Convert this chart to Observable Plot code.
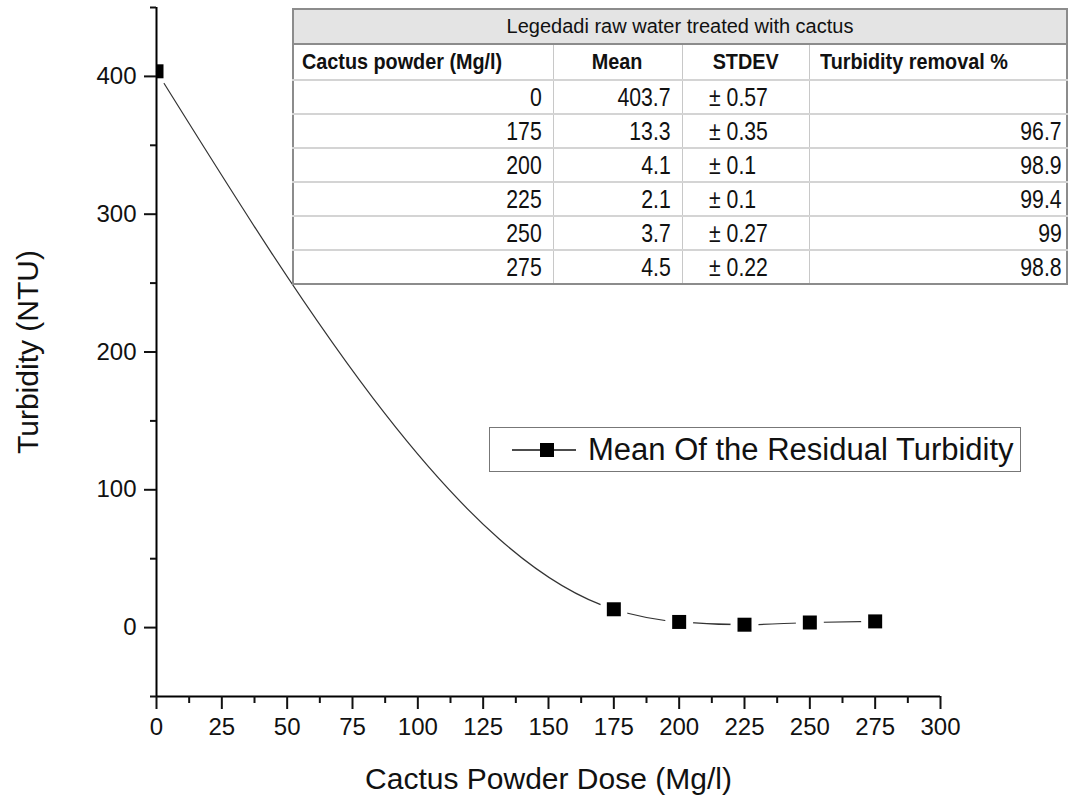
<!DOCTYPE html>
<html>
<head>
<meta charset="utf-8">
<script src="https://cdn.jsdelivr.net/npm/d3@7"></script>
<script src="https://cdn.jsdelivr.net/npm/@observablehq/plot@0.6"></script>
<style>
  html, body { margin: 0; padding: 0; background: #fff; }
  #wrap { position: relative; width: 1069px; height: 803px; overflow: hidden; font-family: "Liberation Sans", Arial, sans-serif; }
  #wrap svg.plot { position: absolute; left: 0; top: 0; }
  table.info { position: absolute; left: 292px; top: 8px; border-collapse: collapse; border: 2px solid #8c8c8c;
    font-family: "Liberation Sans", Arial, sans-serif; color: #111; background: #fff; table-layout: fixed; }
  table.info td, table.info th { border: 1px solid #c8c8c8; padding: 0; white-space: nowrap; overflow: hidden; }
  table.info tr.ttl td { background: #e4e4e4; text-align: center; font-size: 20px; height: 33px; border-bottom: 2px solid #8c8c8c; }
  table.info tr.hdr th { font-size: 22px; font-weight: bold; height: 34px; }
  table.info tr.row td { font-size: 25px; height: 32px; border-top: 2px solid #d4d4d4; }
  .n { display: inline-block; }
  .r { text-align: right; padding-right: 11px !important; }
  .r .n { transform-origin: right center; }
  .l { text-align: left; }
  .l .n { transform-origin: left center; }
  .c { text-align: center; }
  .c .n { transform-origin: center center; }
  #legend { position: absolute; left: 489px; top: 427px; width: 530px; height: 43px; border: 1.5px solid #777; background: #fff;
    display: flex; align-items: center; font-size: 31px; color: #111; }
  #legend svg { margin-left: 22px; margin-right: 12px; }
</style>
</head>
<body>
<div id="wrap"></div>
<script>
// ---- data ----
const doses = [0, 175, 200, 225, 250, 275];
const meanTurbidity = [403.7, 13.3, 4.1, 2.1, 3.7, 4.5];
const stdevText = ["± 0.57", "± 0.35", "± 0.1", "± 0.1", "± 0.27", "± 0.22"];
const removalPct = ["", "96.7", "98.9", "99.4", "99", "98.8"];
const tableTitle = "Legedadi raw water treated with cactus";
const tableHeaders = ["Cactus powder (Mg/l)", "Mean", "STDEV", "Turbidity removal %"];
const seriesName = "Mean Of the Residual Turbidity";
const xMajorTicks = [0, 25, 50, 75, 100, 125, 150, 175, 200, 225, 250, 275, 300];
const xMinorTicks = [12.5, 37.5, 62.5, 87.5, 112.5, 137.5, 162.5, 187.5, 212.5, 237.5, 262.5, 287.5];
const yMajorTicks = [0, 100, 200, 300, 400];
const yMinorTicks = [-50, 50, 150, 250, 350, 450];
const xTitle = "Cactus Powder Dose (Mg/l)";
const yTitle = "Turbidity (NTU)";

const data = doses.map((d, i) => ({dose: d, mean: meanTurbidity[i]}));

const tickFont = 24;
const plot = Plot.plot({
  width: 1069,
  height: 803,
  marginLeft: 156,
  marginRight: 129,
  marginTop: 7,
  marginBottom: 107,
  style: {fontFamily: "'Liberation Sans', Arial, sans-serif", background: "transparent", color: "#111"},
  x: {domain: [0, 300]},
  y: {domain: [-50, 450]},
  marks: [
    Plot.line(data, {x: "dose", y: "mean", curve: "monotone-x", stroke: "#333", strokeWidth: 1.2}),
    Plot.dot(data, {x: "dose", y: "mean", r: 14, fill: "white", stroke: "none", clip: true}),
    Plot.dot(data, {x: "dose", y: "mean", symbol: "square", r: 7.9, fill: "#000", stroke: "none", clip: true}),
    Plot.ruleX([0], {stroke: "#000", strokeWidth: 2}),
    Plot.ruleY([-50], {stroke: "#000", strokeWidth: 2}),
    Plot.axisX({ticks: xMajorTicks, tickSize: 13, tickPadding: 8, fontSize: tickFont, strokeWidth: 2, label: null, tickFormat: d3.format("d")}),
    Plot.axisX({ticks: xMinorTicks, tickSize: 7, strokeWidth: 2, label: null, tickFormat: () => ""}),
    Plot.axisY({ticks: yMajorTicks, tickSize: 12, tickPadding: 8, fontSize: tickFont, strokeWidth: 2, label: null, tickFormat: d3.format("d")}),
    Plot.axisY({ticks: yMinorTicks, tickSize: 6, strokeWidth: 2, label: null, tickFormat: () => ""}),
    Plot.text([xTitle], {frameAnchor: "bottom", dy: 92, fontSize: 30, lineAnchor: "bottom", textAnchor: "middle", fill: "#111"}),
    Plot.text([yTitle], {frameAnchor: "left", dx: -128, rotate: -90, fontSize: 30, textAnchor: "middle", lineAnchor: "middle", fill: "#111"})
  ]
});
plot.classList.add("plot");
const wrap = document.getElementById("wrap");
wrap.appendChild(plot);

// ---- table ----
function cell(tag, text, align, scale, extra) {
  const el = document.createElement(tag);
  el.className = align;
  const s = document.createElement("span");
  s.className = "n";
  s.textContent = text;
  s.style.transform = `scaleX(${scale})`;
  el.appendChild(s);
  if (extra) Object.entries(extra).forEach(([k, v]) => el.style.setProperty(k, v, "important"));
  return el;
}
const colW = [260, 129, 127, 258];
const tbl = document.createElement("table");
tbl.className = "info";
const cg = document.createElement("colgroup");
colW.forEach(w => { const c = document.createElement("col"); c.style.width = w + "px"; cg.appendChild(c); });
tbl.appendChild(cg);
const tr0 = document.createElement("tr"); tr0.className = "ttl";
const td0 = cell("td", tableTitle, "c", 1); td0.colSpan = 4; tr0.appendChild(td0); tbl.appendChild(tr0);
const tr1 = document.createElement("tr"); tr1.className = "hdr";
const hdrAlign = [["l", "8px"], ["c", null], ["c", null], ["l", "10px"]];
tableHeaders.forEach((h, i) => {
  tr1.appendChild(cell("th", h, hdrAlign[i][0], 0.9, hdrAlign[i][1] ? {"padding-left": hdrAlign[i][1]} : null));
});
tbl.appendChild(tr1);
doses.forEach((d, i) => {
  const tr = document.createElement("tr"); tr.className = "row";
  tr.appendChild(cell("td", String(d), "r", 0.85));
  tr.appendChild(cell("td", meanTurbidity[i].toFixed(1), "r", 0.85));
  tr.appendChild(cell("td", stdevText[i], "l", 0.85, {"padding-left": "26px"}));
  tr.appendChild(cell("td", removalPct[i], "r", 0.85, {"padding-right": "4px"}));
  tbl.appendChild(tr);
});
wrap.appendChild(tbl);

// ---- legend ----
const lg = document.createElement("div"); lg.id = "legend";
lg.innerHTML = `<svg width="64" height="20" viewBox="0 0 64 20"><line x1="0" y1="10" x2="64" y2="10" stroke="#111" stroke-width="1.5"/><rect x="28" y="3" width="14" height="14" fill="#000"/></svg><span></span>`;
lg.querySelector("span").textContent = seriesName;
wrap.appendChild(lg);
</script>
</body>
</html>
